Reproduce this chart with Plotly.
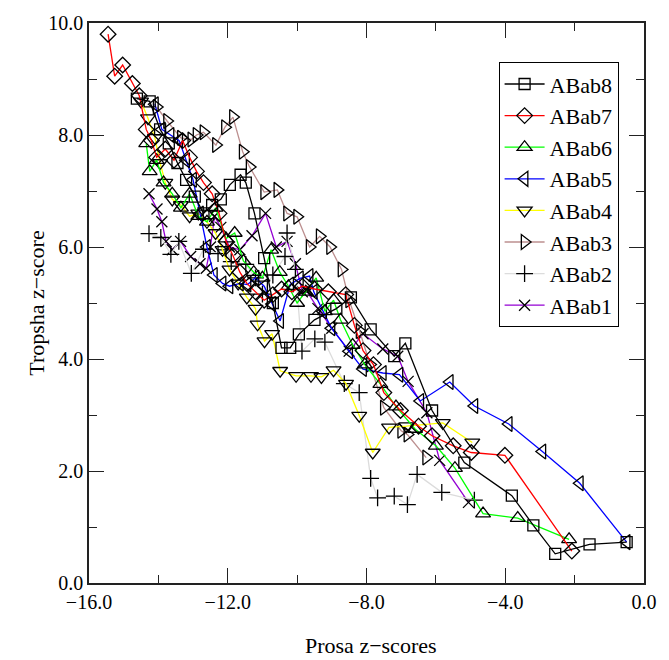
import plotly.graph_objects as go

# ---- data ----
series_names = ["ABab8", "ABab7", "ABab6", "ABab5", "ABab4", "ABab3", "ABab2", "ABab1"]

x8 = [-14.62, -14.25, -13.95, -13.7, -13.45, -13.2, -12.95, -12.7, -12.45, -12.2, -11.94, -11.63, -11.48, -11.23,
      -10.95, -10.7, -10.45, -10.2, -9.95, -9.5, -8.87, -8.45, -7.88, -7.2, -6.88, -6.11, -5.18, -3.81, -3.19,
      -2.56, -1.57, -0.5]
y8 = [8.65, 8.6, 8.1, 7.85, 7.5, 7.2, 6.9, 6.6, 6.75, 6.85, 7.11, 7.29, 7.15, 6.6, 5.8, 5.0, 4.2, 4.2, 4.44, 4.7,
      4.9, 5.1, 4.53, 4.05, 4.28, 3.08, 2.15, 1.56, 1.03, 0.52, 0.69, 0.73]

x7 = [-15.45, -15.26, -15.03, -14.75, -14.55, -14.35, -14.2, -14.05, -13.8, -13.55, -13.3, -13.1, -12.9, -12.7,
      -12.45, -12.25, -12.05, -11.85, -11.65, -11.45, -11.2, -10.95, -10.7, -10.45, -10.15, -9.85, -9.5, -9.1,
      -8.6, -8.35, -8.1, -7.8, -7.5, -7.02, -6.5, -6.11, -5.5, -4.98, -4.01, -2.08]
y7 = [9.8, 9.05, 9.25, 8.92, 8.7, 8.1, 7.9, 7.6, 7.75, 7.55, 7.9, 7.6, 7.35, 7.15, 6.95, 6.6, 6.1, 5.85, 5.55, 5.35,
      5.2, 5.05, 5.15, 5.25, 5.2, 5.3, 5.25, 5.2, 5.15, 4.6, 4.15, 3.9, 3.4, 3.08, 2.8, 2.63, 2.45, 2.33, 2.28, 0.57]

x6 = [-14.35, -14.25, -14.05, -13.85, -13.6, -13.35, -13.1, -12.85, -12.6, -12.35, -12.05, -11.8, -11.55, -11.25,
      -11.0, -10.75, -10.5, -10.25, -10.0, -9.75, -9.45, -9.2, -8.95, -8.75, -8.4, -8.05, -7.6, -7.15, -6.6, -6.0,
      -5.45, -4.64, -3.64, -2.16]
y6 = [7.85, 7.35, 7.55, 7.15, 6.95, 6.7, 6.95, 6.55, 6.45, 6.7, 6.15, 6.25, 5.75, 5.55, 5.45, 5.95, 5.55, 5.3, 5.0,
      5.2, 5.45, 4.85, 5.05, 4.7, 4.25, 3.9, 3.55, 3.15, 2.75, 2.45, 2.05, 1.24, 1.16, 0.78]

x5 = [-14.1, -13.9, -13.65, -13.4, -13.2, -13.0, -12.8, -12.6, -12.4, -12.15, -11.95, -11.65, -11.43, -11.2, -10.95,
      -10.72, -10.49, -10.2, -9.92, -9.64, -9.52, -9.25, -9.01, -8.5, -8.1, -7.53, -7.05, -6.45, -5.6, -4.89, -3.9,
      -2.93, -1.85, -0.5]
y5 = [8.55, 8.1, 8.0, 7.9, 7.55, 7.2, 6.6, 6.0, 5.5, 5.35, 5.3, 5.35, 5.33, 5.45, 5.3, 4.98, 4.68, 5.33, 5.44,
      5.48, 5.2, 4.85, 4.55, 4.14, 3.82, 3.75, 3.72, 3.25, 3.59, 3.16, 2.84, 2.35, 1.78, 0.73]

x4 = [-14.5, -14.3, -14.1, -13.95, -13.8, -13.6, -13.35, -13.1, -12.85, -12.6, -12.35, -12.15, -11.95, -11.7,
      -11.45, -11.2, -11.14, -10.94, -10.72, -10.49, -10.03, -9.6, -9.3, -8.95, -8.59, -8.21, -7.82, -7.35, -6.85,
      -5.8, -4.95]
y4 = [8.6, 8.3, 7.95, 7.5, 7.15, 6.85, 6.75, 6.55, 6.6, 6.45, 6.25, 5.95, 5.6, 5.35, 5.1, 4.9, 4.62, 4.32, 4.45,
      3.79, 3.7, 3.7, 3.68, 3.8, 3.56, 2.99, 2.33, 2.78, 2.8, 2.86, 2.51]

x3 = [-14.05, -13.75, -13.35, -13.05, -12.9, -12.7, -12.34, -12.08, -11.85, -11.57, -11.37, -10.95, -10.57,
      -10.29, -10.0, -9.64, -9.35, -9.05, -8.72, -8.5, -8.2, -7.9, -7.5, -7.0, -6.82, -6.28]
y3 = [8.5, 8.25, 7.95, 7.92, 8.0, 8.05, 7.82, 8.14, 8.32, 7.7, 7.43, 6.98, 7.02, 6.6, 6.54, 6.0, 6.19, 6.0, 5.6,
      5.05, 4.5, 3.9, 3.13, 2.72, 2.65, 2.24]

x2 = [-14.27, -13.93, -13.64, -13.41, -13.05, -12.7, -12.28, -12.05, -11.9, -11.48, -11.2, -11.0, -10.7, -10.35,
      -10.29, -10.05, -9.86, -9.49, -9.2, -8.64, -8.21, -7.88, -7.68, -7.2, -6.82, -6.54, -5.83, -4.89]
y2 = [6.24, 6.17, 5.87, 6.1, 5.53, 5.96, 5.88, 5.95, 5.74, 5.69, 5.45, 5.16, 5.5, 5.83, 6.25, 5.6, 4.14, 4.36, 4.3,
      3.56, 3.4, 1.87, 1.52, 1.55, 1.4, 1.94, 1.62, 1.48]

x1 = [-14.27, -14.04, -13.9, -13.78, -13.6, -13.36, -13.07, -12.8, -12.62, -12.5, -12.38, -12.2, -11.95, -11.65,
      -11.3, -10.91, -10.6, -10.29, -10.05, -9.85, -9.72, -9.4, -9.0, -8.5, -8.1, -7.53, -7.1, -6.8, -6.26, -5.89,
      -5.06]
y1 = [6.95, 6.68, 6.45, 6.1, 5.95, 6.1, 5.83, 5.7, 5.62, 6.0, 6.55, 6.35, 6.0, 5.95, 6.2, 6.6, 6.0, 6.1, 5.7, 5.2,
      5.21, 4.9, 4.55, 4.14, 4.45, 4.18, 4.05, 3.6, 3.04, 2.19, 1.44]

xs = [x8, x7, x6, x5, x4, x3, x2, x1]
ys = [y8, y7, y6, y5, y4, y3, y2, y1]

x_title = "Prosa z\u2212scores"
y_title = "Tropsha z\u2212score"

# ---- styles ----
line_colors = ["#000000", "#ff0000", "#00ff00", "#0000ff", "#ffff00", "#bc8f8f", "#dcdcdc", "#9400d3"]
symbols = ["square-open", "diamond-open", "triangle-up-open", "triangle-left-open",
           "triangle-down-open", "triangle-right-open", "cross-thin-open", "x-thin-open"]
sizes = [11, 12, 13, 13, 13, 13, 12, 11]

FONT = "Liberation Serif"

fig = go.Figure()
# draw ABab1 first so ABab8 sits on top; legend reversed to list ABab8 first
for i in reversed(range(len(series_names))):
    fig.add_trace(go.Scatter(
        x=xs[i], y=ys[i], name=series_names[i], mode="lines+markers",
        line=dict(color=line_colors[i], width=1.3),
        marker=dict(symbol=symbols[i], size=sizes[i], color="#000000",
                    line=dict(width=1.3, color="#000000")),
    ))

axis_common = dict(
    showline=True, linecolor="#222222", linewidth=1.6, mirror="ticks",
    ticks="inside", tickcolor="#222222", tickwidth=1.2, ticklen=15,
    showgrid=False, zeroline=False, tickformat=".1f",
    tickfont=dict(family=FONT, size=20, color="#000000"),
)

fig.update_xaxes(range=[-16, 0], tick0=0, dtick=4,
                 minor=dict(ticks="inside", ticklen=8, dtick=2, tickcolor="#222222", tickwidth=1.2),
                 **axis_common)
fig.update_yaxes(range=[0, 10], tick0=0, dtick=2,
                 minor=dict(ticks="inside", ticklen=8, dtick=1, tickcolor="#222222", tickwidth=1.2),
                 **axis_common)

fig.add_annotation(text=x_title, xref="paper", yref="paper", x=0.508, y=-0.1112,
                   xanchor="center", yanchor="middle", showarrow=False,
                   font=dict(family=FONT, size=22, color="#000000"))
fig.add_annotation(text=y_title, xref="paper", yref="paper", x=-0.096, y=0.5,
                   xanchor="center", yanchor="middle", showarrow=False, textangle=-90,
                   font=dict(family=FONT, size=22, color="#000000"))

fig.update_layout(
    width=669, height=660,
    margin=dict(l=89, r=16.5, t=20.5, b=77),
    paper_bgcolor="white", plot_bgcolor="white",
    font=dict(family=FONT, color="#000000"),
    showlegend=True,
    legend=dict(x=0.738, y=0.93, xanchor="left", yanchor="top", itemwidth=40,
                traceorder="reversed", bordercolor="#000000", borderwidth=1,
                bgcolor="white", font=dict(family=FONT, size=22, color="#000000")),
)

fig.write_html("out.html")
